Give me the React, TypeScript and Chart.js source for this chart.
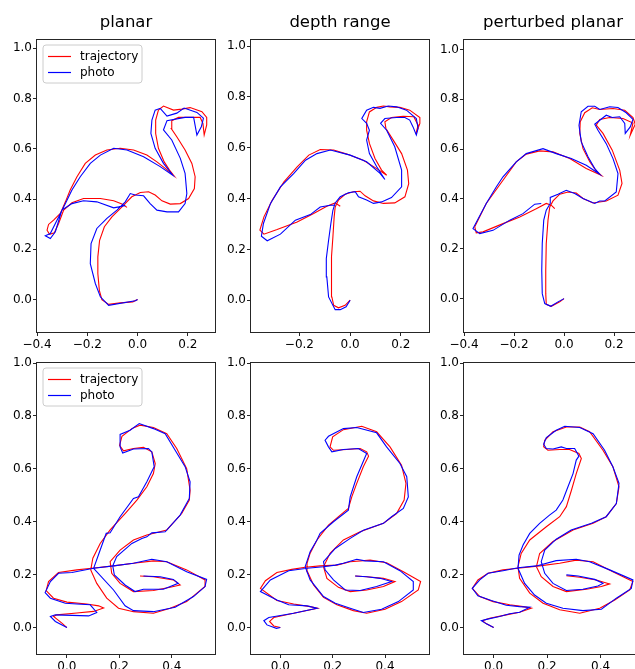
import React, { useEffect, useRef } from "react";
import { Chart, registerables } from "chart.js";

Chart.register(...registerables);

type Pt = [number, number];

// ---------- text ----------
const seriesLabels = ["trajectory", "photo"];
const columnTitles = ["planar", "depth range", "perturbed planar"];

// ---------- tick values ----------
const flamingoXTicksA = [-0.4, -0.2, 0.0, 0.2];
const flamingoXTicksB = [-0.2, 0.0, 0.2];
const snakeXTicks = [0.0, 0.2, 0.4];
const yTicks = [0.0, 0.2, 0.4, 0.6, 0.8, 1.0];

// ---------- flamingo (top row) ----------
const planarFlamingoTrajectory: Pt[] = [
  [0, 0], [-0.019, -0.009], [-0.069, -0.013], [-0.115, -0.019], [-0.142, 0.0], [-0.152, 0.037], [-0.158, 0.104],
  [-0.158, 0.17], [-0.151, 0.236], [-0.132, 0.29], [-0.102, 0.329], [-0.062, 0.369], [-0.023, 0.409], [0.011, 0.426],
  [0.044, 0.429], [0.07, 0.416], [0.097, 0.393], [0.13, 0.38], [0.17, 0.382], [0.203, 0.402], [0.226, 0.442],
  [0.229, 0.489], [0.216, 0.542], [0.189, 0.595], [0.156, 0.648], [0.134, 0.681], [0.136, 0.712], [0.163, 0.725],
  [0.209, 0.725], [0.249, 0.725], [0.26, 0.701], [0.265, 0.655], [0.275, 0.695], [0.275, 0.725], [0.256, 0.748],
  [0.209, 0.764], [0.176, 0.758], [0.143, 0.754], [0.103, 0.77], [0.083, 0.754], [0.072, 0.714], [0.072, 0.661],
  [0.083, 0.602], [0.106, 0.548], [0.127, 0.515], [0.143, 0.495], [0.11, 0.522], [0.077, 0.548], [0.037, 0.575],
  [-0.016, 0.595], [-0.069, 0.602], [-0.122, 0.595], [-0.168, 0.575], [-0.208, 0.542], [-0.241, 0.489],
  [-0.268, 0.436], [-0.287, 0.389], [-0.307, 0.343], [-0.334, 0.316], [-0.354, 0.299], [-0.36, 0.276],
  [-0.35, 0.26], [-0.331, 0.266], [-0.314, 0.303], [-0.294, 0.356], [-0.261, 0.385], [-0.215, 0.402],
  [-0.148, 0.402], [-0.095, 0.393], [-0.062, 0.38], [-0.042, 0.367],
];
const planarFlamingoPhoto: Pt[] = [
  [0, 0], [-0.009, -0.005], [-0.115, -0.023], [-0.148, 0.011], [-0.168, 0.064], [-0.188, 0.143], [-0.185, 0.223],
  [-0.162, 0.283], [-0.122, 0.323], [-0.082, 0.356], [-0.049, 0.389], [-0.029, 0.422], [-0.009, 0.416],
  [0.024, 0.413], [0.05, 0.382], [0.077, 0.356], [0.117, 0.349], [0.163, 0.349], [0.189, 0.382], [0.196, 0.422],
  [0.189, 0.502], [0.17, 0.562], [0.136, 0.635], [0.103, 0.675], [0.117, 0.712], [0.189, 0.725], [0.223, 0.725],
  [0.236, 0.655], [0.254, 0.689], [0.262, 0.722], [0.236, 0.745], [0.185, 0.762], [0.156, 0.742], [0.117, 0.73],
  [0.09, 0.761], [0.07, 0.754], [0.057, 0.714], [0.053, 0.661], [0.07, 0.602], [0.103, 0.542], [0.14, 0.495],
  [0.09, 0.529], [0.024, 0.568], [-0.042, 0.595], [-0.095, 0.602], [-0.148, 0.575], [-0.188, 0.542],
  [-0.228, 0.489], [-0.261, 0.436], [-0.287, 0.382], [-0.307, 0.343], [-0.327, 0.303], [-0.347, 0.263],
  [-0.367, 0.254], [-0.347, 0.243], [-0.327, 0.27], [-0.301, 0.356], [-0.261, 0.382], [-0.215, 0.393],
  [-0.162, 0.389], [-0.095, 0.365], [-0.075, 0.369], [-0.049, 0.375],
];
const depthFlamingoTrajectory: Pt[] = [
  [0, 0], [-0.02, -0.02], [-0.046, -0.03], [-0.065, -0.02], [-0.072, 0.013], [-0.075, 0.092], [-0.072, 0.171],
  [-0.068, 0.249], [-0.063, 0.328], [-0.059, 0.367], [-0.046, 0.394], [-0.02, 0.417], [0.013, 0.427],
  [0.039, 0.429], [0.059, 0.411], [0.092, 0.391], [0.131, 0.381], [0.176, 0.383], [0.216, 0.407], [0.231, 0.459],
  [0.226, 0.512], [0.203, 0.577], [0.17, 0.63], [0.141, 0.676], [0.137, 0.702], [0.163, 0.719], [0.209, 0.724],
  [0.251, 0.722], [0.268, 0.689], [0.259, 0.654], [0.275, 0.696], [0.275, 0.719], [0.235, 0.748], [0.196, 0.759],
  [0.157, 0.761], [0.131, 0.764], [0.105, 0.759], [0.076, 0.741], [0.065, 0.702], [0.065, 0.669], [0.076, 0.617],
  [0.098, 0.558], [0.124, 0.512], [0.144, 0.492], [0.105, 0.518], [0.052, 0.551], [-0.013, 0.575],
  [-0.065, 0.591], [-0.118, 0.593], [-0.163, 0.571], [-0.209, 0.525], [-0.261, 0.466], [-0.307, 0.394],
  [-0.34, 0.328], [-0.356, 0.276], [-0.34, 0.26], [-0.288, 0.278], [-0.209, 0.308], [-0.144, 0.341],
  [-0.092, 0.37], [-0.059, 0.383], [-0.039, 0.37],
];
const depthFlamingoPhoto: Pt[] = [
  [0, 0], [-0.016, -0.026], [-0.039, -0.037], [-0.059, -0.037], [-0.085, 0.013], [-0.092, 0.092], [-0.094, 0.164],
  [-0.085, 0.236], [-0.076, 0.302], [-0.068, 0.354], [-0.059, 0.383], [-0.039, 0.407], [-0.007, 0.423],
  [0.02, 0.427], [0.033, 0.407], [0.065, 0.394], [0.092, 0.381], [0.124, 0.387], [0.163, 0.404], [0.203, 0.446],
  [0.203, 0.512], [0.176, 0.604], [0.144, 0.669], [0.12, 0.696], [0.137, 0.715], [0.183, 0.719], [0.216, 0.719],
  [0.235, 0.709], [0.248, 0.682], [0.261, 0.65], [0.268, 0.676], [0.261, 0.715], [0.222, 0.748], [0.183, 0.761],
  [0.15, 0.764], [0.118, 0.755], [0.092, 0.759], [0.065, 0.748], [0.046, 0.715], [0.065, 0.696], [0.076, 0.669],
  [0.065, 0.63], [0.076, 0.577], [0.105, 0.525], [0.137, 0.475], [0.118, 0.499], [0.065, 0.545], [0.0, 0.571],
  [-0.078, 0.591], [-0.131, 0.577], [-0.176, 0.551], [-0.222, 0.499], [-0.275, 0.446], [-0.314, 0.381],
  [-0.342, 0.302], [-0.35, 0.252], [-0.327, 0.234], [-0.275, 0.26], [-0.216, 0.315], [-0.157, 0.337],
  [-0.118, 0.367], [-0.078, 0.374], [-0.059, 0.374],
];
const perturbedFlamingoTrajectory: Pt[] = [
  [0, 0], [-0.017, -0.013], [-0.051, -0.031], [-0.071, -0.023], [-0.073, 0.02], [-0.073, 0.114], [-0.071, 0.221],
  [-0.064, 0.315], [-0.057, 0.368], [-0.044, 0.392], [-0.017, 0.419], [0.016, 0.428], [0.049, 0.424],
  [0.076, 0.402], [0.116, 0.384], [0.169, 0.392], [0.216, 0.415], [0.232, 0.462], [0.223, 0.515], [0.193, 0.596],
  [0.156, 0.663], [0.129, 0.696], [0.143, 0.719], [0.183, 0.727], [0.236, 0.723], [0.276, 0.705], [0.265, 0.656],
  [0.285, 0.7], [0.276, 0.727], [0.243, 0.756], [0.196, 0.763], [0.143, 0.759], [0.113, 0.766], [0.083, 0.746],
  [0.065, 0.71], [0.063, 0.663], [0.076, 0.602], [0.103, 0.549], [0.129, 0.513], [0.149, 0.495], [0.089, 0.522],
  [0.023, 0.562], [-0.044, 0.589], [-0.097, 0.593], [-0.151, 0.58], [-0.191, 0.549], [-0.244, 0.475],
  [-0.311, 0.382], [-0.357, 0.288], [-0.351, 0.264], [-0.324, 0.268], [-0.244, 0.301], [-0.177, 0.328],
  [-0.111, 0.361], [-0.071, 0.382], [-0.051, 0.375], [-0.037, 0.361],
];
const perturbedFlamingoPhoto: Pt[] = [
  [0, 0], [-0.024, -0.013], [-0.053, -0.031], [-0.077, -0.02], [-0.087, 0.02], [-0.089, 0.114], [-0.087, 0.221],
  [-0.081, 0.315], [-0.071, 0.355], [-0.055, 0.382], [-0.055, 0.406], [-0.024, 0.419], [0.009, 0.435],
  [0.043, 0.422], [0.076, 0.402], [0.123, 0.382], [0.143, 0.392], [0.163, 0.392], [0.209, 0.428], [0.216, 0.502],
  [0.196, 0.562], [0.169, 0.622], [0.136, 0.676], [0.123, 0.7], [0.143, 0.716], [0.169, 0.736], [0.193, 0.727],
  [0.223, 0.73], [0.243, 0.703], [0.245, 0.663], [0.265, 0.689], [0.276, 0.719], [0.249, 0.746], [0.216, 0.767],
  [0.183, 0.77], [0.143, 0.759], [0.123, 0.772], [0.096, 0.772], [0.069, 0.75], [0.06, 0.696], [0.069, 0.629],
  [0.096, 0.569], [0.123, 0.522], [0.143, 0.499], [0.089, 0.535], [0.029, 0.562], [-0.031, 0.582],
  [-0.084, 0.602], [-0.151, 0.582], [-0.191, 0.549], [-0.244, 0.489], [-0.271, 0.448], [-0.311, 0.382],
  [-0.364, 0.281], [-0.337, 0.261], [-0.284, 0.274], [-0.217, 0.315], [-0.164, 0.341], [-0.117, 0.379],
  [-0.091, 0.382],
];

// ---------- snake (bottom row) ----------
const planarSnakeTrajectory: Pt[] = [
  [0, 0], [-0.019, 0.017], [-0.051, 0.042], [-0.038, 0.048], [0.038, 0.055], [0.102, 0.061], [0.14, 0.074],
  [0.121, 0.082], [0.076, 0.089], [0.0, 0.096], [-0.051, 0.111], [-0.079, 0.14], [-0.07, 0.174], [-0.032, 0.208],
  [0.038, 0.218], [0.095, 0.224], [0.178, 0.233], [0.254, 0.243], [0.33, 0.252], [0.381, 0.249], [0.457, 0.218],
  [0.527, 0.18], [0.527, 0.155], [0.457, 0.098], [0.394, 0.073], [0.33, 0.054], [0.254, 0.06], [0.197, 0.073],
  [0.152, 0.111], [0.114, 0.167], [0.091, 0.218], [0.099, 0.262], [0.127, 0.318], [0.165, 0.369], [0.222, 0.431],
  [0.267, 0.482], [0.305, 0.532], [0.33, 0.582], [0.337, 0.62], [0.324, 0.664], [0.292, 0.681], [0.254, 0.677],
  [0.216, 0.668], [0.201, 0.689], [0.21, 0.723], [0.248, 0.752], [0.279, 0.765], [0.33, 0.756], [0.381, 0.733],
  [0.419, 0.677], [0.457, 0.601], [0.47, 0.519], [0.467, 0.482], [0.438, 0.431], [0.381, 0.369], [0.305, 0.35],
  [0.254, 0.331], [0.203, 0.293], [0.165, 0.249], [0.171, 0.205], [0.203, 0.167], [0.254, 0.136], [0.33, 0.14],
  [0.394, 0.152], [0.432, 0.161], [0.406, 0.18], [0.33, 0.192], [0.279, 0.195],
];
const planarSnakePhoto: Pt[] = [
  [0, 0], [-0.044, 0.023], [-0.063, 0.042], [-0.044, 0.048], [0.083, 0.044], [0.114, 0.057], [0.089, 0.086],
  [0.038, 0.089], [-0.006, 0.092], [-0.063, 0.111], [-0.083, 0.132], [-0.063, 0.174], [-0.032, 0.205],
  [0.019, 0.208], [0.102, 0.224], [0.178, 0.233], [0.254, 0.243], [0.324, 0.258], [0.381, 0.249], [0.457, 0.211],
  [0.533, 0.182], [0.527, 0.155], [0.483, 0.117], [0.413, 0.077], [0.33, 0.06], [0.254, 0.064], [0.222, 0.082],
  [0.178, 0.142], [0.102, 0.224], [0.127, 0.293], [0.15, 0.356], [0.165, 0.358], [0.203, 0.419], [0.254, 0.488],
  [0.273, 0.494], [0.305, 0.551], [0.333, 0.608], [0.324, 0.664], [0.311, 0.677], [0.254, 0.675], [0.213, 0.66],
  [0.203, 0.683], [0.203, 0.73], [0.241, 0.746], [0.276, 0.771], [0.33, 0.752], [0.375, 0.733], [0.413, 0.67],
  [0.451, 0.608], [0.47, 0.551], [0.467, 0.488], [0.432, 0.425], [0.375, 0.362], [0.324, 0.358], [0.305, 0.343],
  [0.286, 0.337], [0.248, 0.318], [0.19, 0.268], [0.175, 0.233], [0.181, 0.199], [0.222, 0.161], [0.26, 0.136],
  [0.292, 0.145], [0.368, 0.145], [0.425, 0.167], [0.406, 0.182], [0.356, 0.192], [0.292, 0.195],
];
const depthSnakeTrajectory: Pt[] = [
  [0, 0], [-0.025, 0.006], [-0.041, 0.023], [-0.025, 0.038], [0.051, 0.054], [0.142, 0.073], [0.114, 0.079],
  [0.051, 0.089], [-0.013, 0.102], [-0.076, 0.148], [-0.057, 0.177], [-0.013, 0.208], [0.044, 0.22],
  [0.095, 0.228], [0.152, 0.233], [0.216, 0.236], [0.267, 0.249], [0.343, 0.255], [0.406, 0.245], [0.47, 0.211],
  [0.536, 0.174], [0.527, 0.142], [0.463, 0.098], [0.4, 0.069], [0.33, 0.054], [0.279, 0.064], [0.216, 0.086],
  [0.165, 0.114], [0.127, 0.161], [0.104, 0.211], [0.102, 0.243], [0.114, 0.281], [0.14, 0.331], [0.184, 0.387],
  [0.229, 0.425], [0.26, 0.45], [0.273, 0.494], [0.292, 0.545], [0.317, 0.608], [0.337, 0.648], [0.33, 0.664],
  [0.305, 0.677], [0.254, 0.673], [0.203, 0.67], [0.19, 0.683], [0.2, 0.721], [0.241, 0.748], [0.311, 0.761],
  [0.368, 0.74], [0.419, 0.683], [0.463, 0.614], [0.48, 0.545], [0.473, 0.482], [0.444, 0.431], [0.394, 0.394],
  [0.305, 0.362], [0.241, 0.331], [0.19, 0.281], [0.165, 0.23], [0.178, 0.186], [0.222, 0.152], [0.267, 0.136],
  [0.33, 0.142], [0.394, 0.155], [0.438, 0.174], [0.394, 0.186], [0.33, 0.192], [0.286, 0.195],
];
const depthSnakePhoto: Pt[] = [
  [0, 0], [-0.015, -0.003], [-0.051, 0.01], [-0.063, 0.026], [-0.044, 0.038], [0.051, 0.054], [0.14, 0.073],
  [0.102, 0.082], [0.032, 0.086], [-0.013, 0.104], [-0.076, 0.136], [-0.038, 0.18], [0.032, 0.215], [0.102, 0.224],
  [0.165, 0.23], [0.21, 0.236], [0.241, 0.243], [0.292, 0.258], [0.324, 0.252], [0.394, 0.249], [0.457, 0.215],
  [0.508, 0.174], [0.508, 0.142], [0.451, 0.098], [0.387, 0.069], [0.317, 0.057], [0.267, 0.073], [0.21, 0.092],
  [0.165, 0.117], [0.114, 0.18], [0.095, 0.23], [0.114, 0.287], [0.14, 0.331], [0.152, 0.356], [0.203, 0.4],
  [0.26, 0.444], [0.267, 0.494], [0.292, 0.57], [0.324, 0.645], [0.33, 0.658], [0.298, 0.677], [0.241, 0.673],
  [0.197, 0.664], [0.184, 0.683], [0.171, 0.708], [0.184, 0.723], [0.241, 0.752], [0.292, 0.756], [0.368, 0.736],
  [0.406, 0.683], [0.457, 0.62], [0.483, 0.57], [0.489, 0.494], [0.47, 0.45], [0.425, 0.419], [0.394, 0.394],
  [0.317, 0.368], [0.267, 0.337], [0.21, 0.299], [0.165, 0.249], [0.171, 0.218], [0.203, 0.18], [0.248, 0.142],
  [0.305, 0.14], [0.368, 0.155], [0.425, 0.174], [0.381, 0.186], [0.33, 0.192], [0.286, 0.195],
];
const perturbedSnakeTrajectory: Pt[] = [
  [0, 0], [-0.027, 0.014], [-0.042, 0.026], [-0.015, 0.035], [0.047, 0.048], [0.097, 0.058], [0.141, 0.073],
  [0.11, 0.079], [0.06, 0.086], [-0.002, 0.098], [-0.052, 0.117], [-0.08, 0.148], [-0.059, 0.18], [-0.021, 0.205],
  [0.035, 0.218], [0.091, 0.224], [0.172, 0.233], [0.247, 0.243], [0.309, 0.255], [0.372, 0.249], [0.446, 0.211],
  [0.521, 0.174], [0.509, 0.142], [0.453, 0.104], [0.397, 0.073], [0.322, 0.054], [0.247, 0.067], [0.185, 0.092],
  [0.135, 0.13], [0.097, 0.186], [0.091, 0.23], [0.103, 0.28], [0.135, 0.331], [0.197, 0.381], [0.247, 0.419],
  [0.272, 0.457], [0.291, 0.519], [0.309, 0.582], [0.328, 0.639], [0.319, 0.658], [0.284, 0.673], [0.247, 0.673],
  [0.203, 0.67], [0.187, 0.683], [0.191, 0.708], [0.222, 0.74], [0.272, 0.758], [0.322, 0.758], [0.359, 0.74],
  [0.409, 0.67], [0.446, 0.608], [0.469, 0.532], [0.459, 0.469], [0.421, 0.419], [0.372, 0.394], [0.297, 0.369],
  [0.222, 0.325], [0.172, 0.28], [0.16, 0.23], [0.178, 0.192], [0.222, 0.155], [0.272, 0.136], [0.347, 0.145],
  [0.403, 0.155], [0.434, 0.165], [0.384, 0.18], [0.322, 0.19], [0.272, 0.196],
];
const perturbedSnakePhoto: Pt[] = [
  [0, 0], [-0.027, 0.014], [-0.046, 0.026], [-0.027, 0.031], [0.022, 0.042], [0.06, 0.052], [0.097, 0.058],
  [0.135, 0.077], [0.097, 0.079], [0.047, 0.084], [-0.009, 0.102], [-0.059, 0.12], [-0.08, 0.148], [-0.052, 0.18],
  [-0.021, 0.205], [0.035, 0.215], [0.091, 0.226], [0.16, 0.233], [0.234, 0.253], [0.309, 0.258], [0.359, 0.249],
  [0.434, 0.218], [0.521, 0.18], [0.515, 0.148], [0.459, 0.111], [0.403, 0.069], [0.334, 0.064], [0.259, 0.073],
  [0.197, 0.092], [0.153, 0.123], [0.116, 0.167], [0.091, 0.224], [0.095, 0.274], [0.11, 0.312], [0.135, 0.356],
  [0.172, 0.394], [0.209, 0.425], [0.234, 0.444], [0.259, 0.482], [0.278, 0.532], [0.297, 0.582], [0.309, 0.633],
  [0.319, 0.648], [0.303, 0.677], [0.272, 0.677], [0.253, 0.683], [0.222, 0.675], [0.197, 0.677], [0.187, 0.693],
  [0.197, 0.718], [0.234, 0.746], [0.266, 0.761], [0.322, 0.756], [0.372, 0.733], [0.415, 0.67], [0.446, 0.608],
  [0.469, 0.545], [0.459, 0.469], [0.421, 0.419], [0.366, 0.394], [0.29, 0.369], [0.234, 0.334], [0.191, 0.293],
  [0.178, 0.249], [0.191, 0.205], [0.222, 0.167], [0.272, 0.14], [0.334, 0.145], [0.39, 0.157], [0.409, 0.167],
  [0.378, 0.182], [0.316, 0.195], [0.272, 0.199],
];

// ---------- layout (page pixels, not data) ----------
const Y_AXIS_W = 40;
const X_AXIS_H = 26;
const RIGHT_PAD = 12;
const FONT = "'DejaVu Sans', 'Bitstream Vera Sans', sans-serif";

interface PanelSpec {
  title?: string;
  trajectory: Pt[];
  photo: Pt[];
  xRange: [number, number];
  yRange: [number, number];
  xTicks: number[];
  legend: boolean;
  box: { left: number; top: number; width: number; height: number };
}

const panels: PanelSpec[] = [
  { title: columnTitles[0], trajectory: planarFlamingoTrajectory, photo: planarFlamingoPhoto, xRange: [-0.4, 0.308], yRange: [-0.129, 1.033], xTicks: flamingoXTicksA, legend: true, box: { left: 37, top: 40, width: 178, height: 292 } },
  { title: columnTitles[1], trajectory: depthFlamingoTrajectory, photo: depthFlamingoPhoto, xRange: [-0.391, 0.311], yRange: [-0.125, 1.024], xTicks: flamingoXTicksB, legend: false, box: { left: 251, top: 40, width: 178, height: 292 } },
  { title: columnTitles[2], trajectory: perturbedFlamingoTrajectory, photo: perturbedFlamingoPhoto, xRange: [-0.4, 0.312], yRange: [-0.134, 1.038], xTicks: flamingoXTicksA, legend: false, box: { left: 464, top: 40, width: 178, height: 292 } },
  { trajectory: planarSnakeTrajectory, photo: planarSnakePhoto, xRange: [-0.114, 0.565], yRange: [-0.1, 1.0], xTicks: snakeXTicks, legend: true, box: { left: 37, top: 363, width: 178, height: 291 } },
  { trajectory: depthSnakeTrajectory, photo: depthSnakePhoto, xRange: [-0.112, 0.568], yRange: [-0.1, 1.0], xTicks: snakeXTicks, legend: false, box: { left: 251, top: 363, width: 178, height: 291 } },
  { trajectory: perturbedSnakeTrajectory, photo: perturbedSnakePhoto, xRange: [-0.111, 0.555], yRange: [-0.1, 1.0], xTicks: snakeXTicks, legend: false, box: { left: 464, top: 363, width: 178, height: 291 } },
];

const fmt = (v: number) => {
  const s = Math.abs(v) < 1e-9 ? "0.0" : v.toFixed(1);
  return s.replace("-", "\u2212");
};

const framePlugin = {
  id: "axesFrame",
  afterDatasetsDraw(chart: any) {
    const { ctx, chartArea } = chart;
    const { left, top, right, bottom } = chartArea;
    ctx.save();
    ctx.strokeStyle = "#262626";
    ctx.lineWidth = 1;
    ctx.strokeRect(left - 0.5, top - 0.5, right - left + 1, bottom - top + 1);
    ctx.restore();
  },
};

const cornerLegendPlugin = {
  id: "cornerLegend",
  afterDraw(chart: any, _args: any, opts: any) {
    if (!opts || !opts.display) return;
    const { ctx, chartArea } = chart;
    const x = chartArea.left + 6;
    const y = chartArea.top + 5;
    const w = 99;
    const h = 38;
    const r = 3;
    ctx.save();
    ctx.beginPath();
    ctx.moveTo(x + r, y);
    ctx.lineTo(x + w - r, y);
    ctx.arcTo(x + w, y, x + w, y + r, r);
    ctx.lineTo(x + w, y + h - r);
    ctx.arcTo(x + w, y + h, x + w - r, y + h, r);
    ctx.lineTo(x + r, y + h);
    ctx.arcTo(x, y + h, x, y + h - r, r);
    ctx.lineTo(x, y + r);
    ctx.arcTo(x, y, x + r, y, r);
    ctx.closePath();
    ctx.fillStyle = "rgba(255,255,255,0.8)";
    ctx.fill();
    ctx.strokeStyle = "#cccccc";
    ctx.lineWidth = 1;
    ctx.stroke();
    chart.data.datasets.forEach((ds: any, i: number) => {
      const cy = Math.round(y + 10.5 + i * 16.7) + 0.5;
      ctx.beginPath();
      ctx.moveTo(x + 5, cy);
      ctx.lineTo(x + 28, cy);
      ctx.strokeStyle = ds.borderColor;
      ctx.lineWidth = 1.2;
      ctx.stroke();
      ctx.fillStyle = "#000000";
      ctx.font = `12px ${FONT}`;
      ctx.textBaseline = "middle";
      ctx.textAlign = "left";
      ctx.fillText(ds.label, x + 37, cy);
    });
    ctx.restore();
  },
};

function Panel({ spec }: { spec: PanelSpec }) {
  const ref = useRef<HTMLCanvasElement | null>(null);
  const topSpace = spec.title ? 40 : 10;
  const canvasW = Y_AXIS_W + spec.box.width + RIGHT_PAD;
  const canvasH = topSpace + spec.box.height + X_AXIS_H;

  useEffect(() => {
    if (!ref.current) return;
    const toXY = (pts: Pt[]) => pts.map(([x, y]) => ({ x, y }));
    const tickGrid = {
      display: true,
      drawOnChartArea: false,
      drawTicks: true,
      tickLength: 4,
      color: "#262626",
      lineWidth: 1,
    };
    const chart = new Chart(ref.current, {
      type: "scatter",
      data: {
        datasets: [
          {
            label: seriesLabels[0],
            data: toXY(spec.trajectory),
            showLine: true,
            borderColor: "#ff0000",
            backgroundColor: "#ff0000",
            borderWidth: 1.1,
            pointRadius: 0,
            tension: 0,
            order: 1,
          },
          {
            label: seriesLabels[1],
            data: toXY(spec.photo),
            showLine: true,
            borderColor: "#0000ff",
            backgroundColor: "#0000ff",
            borderWidth: 1.1,
            pointRadius: 0,
            tension: 0,
            order: 0,
          },
        ],
      },
      options: {
        animation: false,
        responsive: false,
        devicePixelRatio: 1,
        events: [],
        layout: { padding: { top: spec.title ? 0 : topSpace, right: RIGHT_PAD, left: 0, bottom: 0 } },
        scales: {
          x: {
            type: "linear",
            min: spec.xRange[0],
            max: spec.xRange[1],
            grid: tickGrid,
            border: { display: false },
            afterBuildTicks: (s: any) => {
              s.ticks = spec.xTicks.map((v) => ({ value: v }));
            },
            afterFit: (s: any) => {
              s.height = X_AXIS_H;
            },
            ticks: {
              color: "#000000",
              font: { family: FONT, size: 12 },
              padding: 2,
              maxRotation: 0,
              autoSkip: false,
              callback: (v: any) => fmt(Number(v)),
            },
          },
          y: {
            type: "linear",
            min: spec.yRange[0],
            max: spec.yRange[1],
            grid: tickGrid,
            border: { display: false },
            afterBuildTicks: (s: any) => {
              s.ticks = yTicks.map((v) => ({ value: v }));
            },
            afterFit: (s: any) => {
              s.width = Y_AXIS_W;
            },
            ticks: {
              color: "#000000",
              font: { family: FONT, size: 12 },
              padding: 1,
              autoSkip: false,
              callback: (v: any) => fmt(Number(v)),
            },
          },
        },
        plugins: {
          legend: { display: false },
          tooltip: { enabled: false },
          title: {
            display: !!spec.title,
            text: spec.title || "",
            color: "#000000",
            fullSize: false,
            font: { family: FONT, size: 16.5, weight: "normal", lineHeight: 1.2 },
            padding: { top: 12.5, bottom: 7.7 },
          },
          cornerLegend: { display: spec.legend },
        } as any,
      },
      plugins: [framePlugin, cornerLegendPlugin],
    } as any);
    return () => chart.destroy();
  }, [spec]);

  return (
    <canvas
      ref={ref}
      width={canvasW}
      height={canvasH}
      style={{
        position: "absolute",
        left: spec.box.left - Y_AXIS_W,
        top: spec.box.top - topSpace,
        width: canvasW,
        height: canvasH,
      }}
    />
  );
}

export default function App() {
  return (
    <div
      style={{
        position: "fixed",
        left: 0,
        top: 0,
        width: 635,
        height: 669,
        overflow: "hidden",
        background: "#ffffff",
      }}
    >
      {panels.map((p, i) => (
        <Panel key={i} spec={p} />
      ))}
    </div>
  );
}
